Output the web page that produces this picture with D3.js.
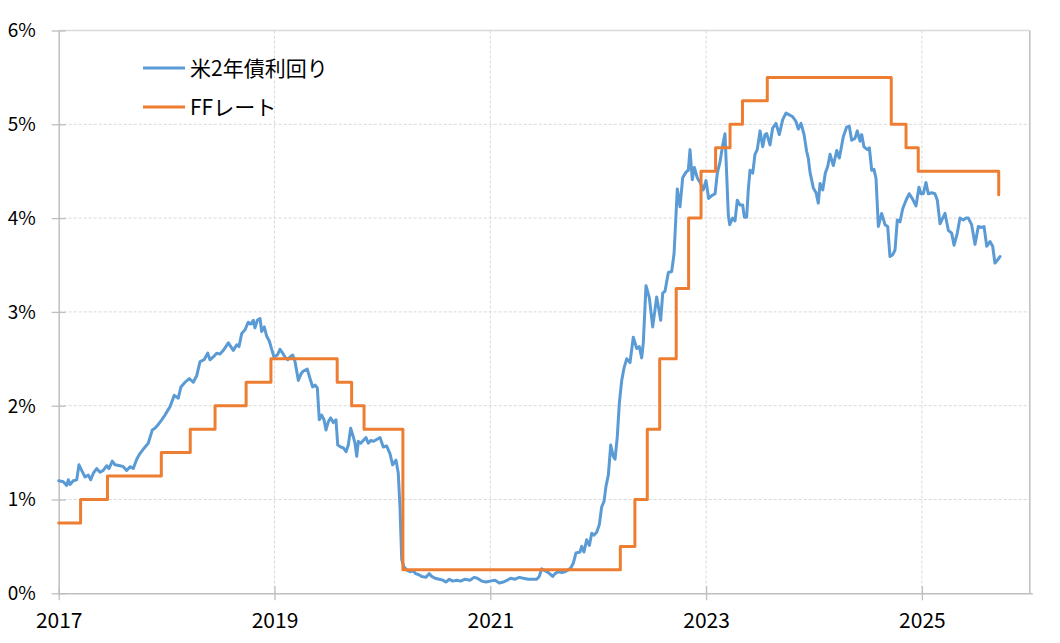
<!DOCTYPE html>
<html><head><meta charset="utf-8">
<script src="https://cdn.jsdelivr.net/npm/d3@7"></script>
<style>body{margin:0;background:#fff}svg{display:block}</style>
</head><body>
<svg id="c" width="1060" height="643"></svg>
<script>
const seriesNames = ["米2年債利回り", "FFレート"];
const xTickValues = [2017, 2019, 2021, 2023, 2025];
const yTickValues = [0, 1, 2, 3, 4, 5, 6];

// 米2年債利回り (decimal year, %)
const y2Years = [
2017.000,2017.043,2017.074,2017.089,2017.105,2017.135,2017.167,2017.188,2017.213,2017.244,2017.274,2017.297,2017.321,2017.352,2017.383,2017.413,2017.445,2017.466,2017.497,2017.522,2017.568,2017.599,2017.630,2017.661,2017.691,2017.723,2017.753,2017.793,2017.830,2017.867,2017.892,2017.923,2017.955,2017.985,
2018.032,2018.071,2018.108,2018.133,2018.171,2018.210,2018.247,2018.279,2018.310,2018.347,2018.381,2018.402,2018.433,2018.464,2018.495,2018.526,2018.572,2018.618,2018.650,2018.671,2018.696,2018.727,2018.757,2018.779,2018.804,2018.819,2018.841,2018.866,2018.881,2018.905,2018.928,2018.952,2018.974,2018.995,
2019.026,2019.051,2019.076,2019.097,2019.122,2019.144,2019.169,2019.190,2019.221,2019.246,2019.267,2019.304,2019.329,2019.354,2019.375,2019.397,2019.415,2019.437,2019.459,2019.477,2019.499,2019.521,2019.545,2019.570,2019.586,2019.614,2019.638,2019.663,2019.684,2019.706,2019.730,2019.746,2019.762,2019.777,2019.799,2019.823,2019.848,2019.869,2019.894,2019.916,2019.947,2019.978,
2020.008,2020.040,2020.070,2020.095,2020.126,2020.147,2020.163,2020.179,2020.200,2020.225,2020.256,2020.286,2020.307,2020.333,2020.364,2020.404,2020.435,2020.457,2020.488,2020.527,2020.559,2020.589,2020.620,2020.652,2020.689,2020.726,2020.766,2020.812,2020.849,2020.880,2020.920,2020.960,2020.997,
2021.044,2021.083,2021.120,2021.158,2021.189,2021.229,2021.269,2021.306,2021.352,2021.393,2021.430,2021.454,2021.476,2021.507,2021.538,2021.578,2021.600,2021.630,2021.662,2021.692,2021.723,2021.745,2021.769,2021.794,2021.831,2021.847,2021.868,2021.893,2021.918,2021.940,2021.961,2021.986,
2022.010,2022.032,2022.054,2022.072,2022.094,2022.116,2022.140,2022.156,2022.177,2022.196,2022.218,2022.239,2022.264,2022.295,2022.325,2022.357,2022.381,2022.403,2022.418,2022.443,2022.474,2022.505,2022.542,2022.579,2022.598,2022.619,2022.650,2022.681,2022.703,2022.733,2022.758,2022.783,2022.814,2022.835,2022.851,2022.872,2022.891,2022.918,2022.944,2022.974,2022.999,
2023.024,2023.052,2023.083,2023.104,2023.129,2023.154,2023.175,2023.191,2023.206,2023.219,2023.246,2023.268,2023.289,2023.314,2023.339,2023.354,2023.376,2023.391,2023.407,2023.432,2023.453,2023.474,2023.500,2023.525,2023.546,2023.562,2023.592,2023.617,2023.648,2023.678,2023.710,2023.740,2023.771,2023.803,2023.833,2023.855,2023.880,2023.908,2023.932,2023.947,2023.963,2023.994,
2024.019,2024.040,2024.056,2024.081,2024.105,2024.127,2024.149,2024.179,2024.211,2024.235,2024.272,2024.303,2024.327,2024.349,2024.380,2024.401,2024.426,2024.442,2024.463,2024.494,2024.513,2024.535,2024.556,2024.575,2024.596,2024.627,2024.658,2024.683,2024.704,2024.730,2024.751,2024.772,2024.797,2024.822,2024.853,2024.883,2024.915,2024.945,2024.973,2024.992,
2025.013,2025.038,2025.059,2025.091,2025.121,2025.143,2025.168,2025.193,2025.214,2025.245,2025.276,2025.298,2025.328,2025.353,2025.384,2025.409,2025.430,2025.461,2025.492,2025.523,2025.554,2025.576,2025.601,2025.631,2025.656,2025.677,2025.699,2025.724
];
const y2Values = [
1.20,1.19,1.15,1.21,1.16,1.20,1.21,1.37,1.31,1.24,1.26,1.21,1.28,1.33,1.29,1.31,1.36,1.33,1.41,1.37,1.36,1.35,1.31,1.35,1.33,1.43,1.49,1.55,1.60,1.74,1.76,1.80,1.85,1.90,
1.99,2.11,2.08,2.20,2.25,2.29,2.25,2.32,2.47,2.49,2.56,2.49,2.52,2.56,2.55,2.59,2.67,2.59,2.65,2.63,2.77,2.81,2.89,2.87,2.91,2.83,2.91,2.93,2.79,2.84,2.74,2.69,2.60,2.52,
2.54,2.60,2.56,2.52,2.49,2.52,2.54,2.47,2.27,2.34,2.37,2.39,2.29,2.20,2.22,2.19,1.85,1.90,1.85,1.74,1.83,1.87,1.82,1.85,1.58,1.56,1.55,1.51,1.58,1.76,1.67,1.60,1.46,1.62,1.60,1.63,1.66,1.60,1.63,1.62,1.64,1.66,
1.56,1.57,1.49,1.37,1.42,1.28,0.92,0.36,0.28,0.25,0.23,0.24,0.21,0.20,0.18,0.17,0.21,0.18,0.16,0.15,0.14,0.12,0.15,0.13,0.14,0.13,0.15,0.14,0.17,0.16,0.13,0.12,0.13,
0.14,0.11,0.12,0.14,0.16,0.15,0.17,0.16,0.15,0.15,0.15,0.18,0.26,0.24,0.22,0.18,0.21,0.23,0.22,0.23,0.25,0.27,0.32,0.43,0.44,0.50,0.44,0.57,0.51,0.64,0.62,0.65,
0.73,0.92,0.98,1.14,1.26,1.58,1.46,1.43,1.67,2.03,2.27,2.40,2.50,2.46,2.73,2.61,2.63,2.51,2.67,3.28,3.15,2.84,3.16,2.91,3.20,3.22,3.42,3.43,3.62,4.31,4.12,4.43,4.49,4.51,4.73,4.41,4.54,4.43,4.38,4.30,4.40,
4.21,4.24,4.26,4.48,4.60,4.78,4.90,4.46,4.03,3.93,4.00,3.97,4.19,4.14,4.14,4.01,4.01,4.30,4.51,4.48,4.68,4.73,4.93,4.76,4.89,4.90,4.78,4.96,5.01,4.89,5.05,5.12,5.10,5.08,5.03,4.95,5.01,4.89,4.71,4.64,4.49,4.32,
4.27,4.16,4.37,4.30,4.48,4.55,4.68,4.56,4.72,4.64,4.87,4.97,4.98,4.83,4.85,4.93,4.82,4.89,4.76,4.73,4.75,4.51,4.52,4.42,3.91,4.05,3.93,3.91,3.59,3.61,3.66,3.98,3.96,4.10,4.19,4.26,4.20,4.13,4.33,4.26,
4.26,4.38,4.26,4.27,4.26,4.19,3.94,4.00,4.05,3.87,3.84,3.71,3.84,4.00,3.98,4.00,4.00,3.93,3.72,3.91,3.90,3.91,3.70,3.75,3.70,3.52,3.55,3.59
];

// FFレート (decimal year of change, %)
const ffYears = [2017.000,2017.203,2017.452,2017.951,2018.219,2018.449,2018.737,2018.967,2019.581,2019.715,2019.830,2020.190,2022.205,2022.340,2022.455,2022.570,2022.723,2022.838,2022.953,2023.088,2023.222,2023.337,2023.567,2024.716,2024.853,2024.966,2025.712];
const ffValues = [0.75,1.00,1.25,1.50,1.75,2.00,2.25,2.50,2.25,2.00,1.75,0.25,0.50,1.00,1.75,2.50,3.25,4.00,4.50,4.75,5.00,5.25,5.50,5.00,4.75,4.50,4.25];

const colors = ["#5B9BD5", "#ED7D31"];
const svg = d3.select("#c");
const L = 58.7, R = 1029.8, T = 30.5, B = 593.3;
const x = d3.scaleLinear().domain([2017, 2026]).range([L, R]);
const y = d3.scaleLinear().domain([0, 6]).range([B, T]);
const font = "'Noto Sans CJK JP','Noto Sans',sans-serif";

// horizontal gridlines
svg.append("g").selectAll("line").data(yTickValues.filter(v => v > 0 && v < 6)).join("line")
  .attr("x1", L).attr("x2", R).attr("y1", d => y(d)).attr("y2", d => y(d))
  .attr("stroke", "#d9d9d9").attr("stroke-width", 1).attr("stroke-dasharray", "3,2");
// vertical gridlines
svg.append("g").selectAll("line").data(xTickValues.filter(v => v > 2017)).join("line")
  .attr("x1", d => x(d)).attr("x2", d => x(d)).attr("y1", T).attr("y2", B)
  .attr("stroke", "#d9d9d9").attr("stroke-width", 1).attr("stroke-dasharray", "3,2");
// top border
svg.append("line").attr("x1", L).attr("x2", R).attr("y1", y(6)).attr("y2", y(6))
  .attr("stroke", "#d9d9d9").attr("stroke-width", 1.3);
// right border
svg.append("line").attr("x1", R).attr("x2", R).attr("y1", T).attr("y2", B)
  .attr("stroke", "#bfbfbf").attr("stroke-width", 1.5);

// y axis
const yAxis = svg.append("g").attr("transform", `translate(${L},0)`)
  .call(d3.axisLeft(y).tickValues(yTickValues).tickSize(7).tickSizeOuter(0).tickPadding(16).tickFormat(d => d + "%"));
yAxis.select(".domain").attr("stroke", "#bfbfbf").attr("stroke-width", 1.5);
yAxis.selectAll(".tick line").attr("x1", 7).attr("x2", -7).attr("stroke", "#bfbfbf").attr("stroke-width", 1.3);
yAxis.selectAll(".tick text").attr("font-family", font).attr("font-size", 19).attr("fill", "#000").attr("dy", "0.34em");

// x axis
const xAxis = svg.append("g").attr("transform", `translate(0,${B})`)
  .call(d3.axisBottom(x).tickValues(xTickValues).tickSize(7).tickSizeOuter(0).tickPadding(13).tickFormat(d3.format("d")));
xAxis.select(".domain").attr("stroke", "#bfbfbf").attr("stroke-width", 1.5).attr("d", `M${L},0.5H${R + 3}`);
xAxis.selectAll(".tick line").attr("y1", -7).attr("y2", 7).attr("stroke", "#bfbfbf").attr("stroke-width", 1.3);
xAxis.selectAll(".tick text").attr("font-family", font).attr("font-size", 21).attr("fill", "#000");

// lines
const y2Data = y2Years.map((t, i) => [t, y2Values[i]]);
const ffData = ffYears.map((t, i) => [t, ffValues[i]]);
svg.append("path").datum(y2Data)
  .attr("d", d3.line().x(d => x(d[0])).y(d => y(d[1])))
  .attr("fill", "none").attr("stroke", colors[0]).attr("stroke-width", 3)
  .attr("stroke-linejoin", "round").attr("stroke-linecap", "round");
svg.append("path").datum(ffData)
  .attr("d", d3.line().curve(d3.curveStepAfter).x(d => x(d[0])).y(d => y(d[1])))
  .attr("fill", "none").attr("stroke", colors[1]).attr("stroke-width", 3)
  .attr("stroke-linejoin", "round").attr("stroke-linecap", "round");

// legend
const lg = svg.append("g").selectAll("g").data(seriesNames).join("g")
  .attr("transform", (d, i) => `translate(143,${68 + i * 39})`);
lg.append("line").attr("x1", 0).attr("x2", 42).attr("y1", 0).attr("y2", 0)
  .attr("stroke", (d, i) => colors[i]).attr("stroke-width", 3);
lg.append("text").attr("x", 47).attr("y", 0).attr("dy", "0.36em")
  .attr("font-family", font).attr("font-size", 21).attr("fill", "#000").text(d => d);
</script>
</body></html>
